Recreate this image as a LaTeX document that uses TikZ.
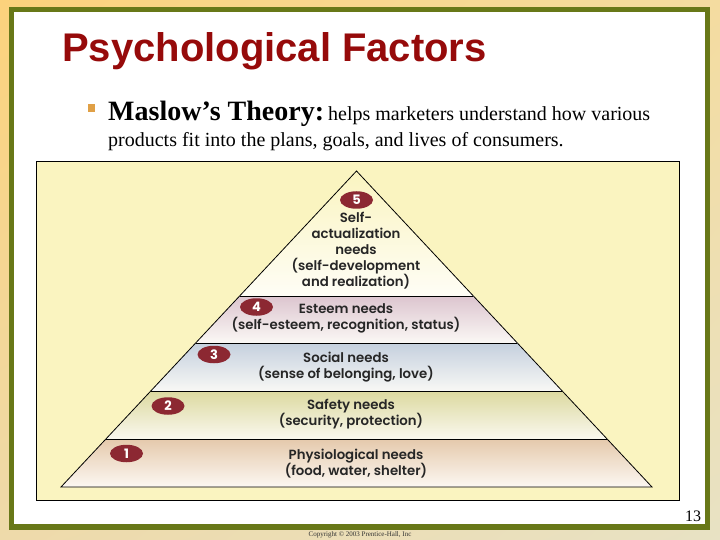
\documentclass[tikz,border=0pt]{standalone}
\usepackage{fontspec}
\setmainfont{Liberation Serif}
\newfontfamily\titlefont{Liberation Sans}
\newfontfamily\pyrfont{Poppins}[BoldFont={Poppins SemiBold}]
\newfontfamily\badgefont{Poppins}
\usetikzlibrary{shapes.geometric,shadings}
\definecolor{olive}{RGB}{104,120,24}
\definecolor{goldA}{RGB}{252,210,124}
\definecolor{goldB}{RGB}{232,226,196}
\definecolor{goldC}{RGB}{244,220,160}
\definecolor{goldD}{RGB}{238,218,170}
\definecolor{titlered}{RGB}{150,10,10}
\definecolor{boxfill}{RGB}{250,244,192}
\definecolor{badge}{RGB}{140,40,50}
\definecolor{bullet}{RGB}{224,160,70}
\tikzset{
  badgenode/.style={ellipse, fill=badge, text=white, minimum width=33pt, minimum height=17.5pt, inner sep=0pt, font=\badgefont\bfseries\fontsize{13}{13}\selectfont},
  levelnode/.style={align=center, text=black!85, inner sep=0pt, font=\pyrfont\bfseries\fontsize{13.3}{16}\selectfont}
}

\begin{document}
\begin{tikzpicture}[x=1pt,y=-1pt]
\useasboundingbox (0,0) rectangle (720,540);
\shade[upper left=goldA, upper right=goldC, lower left=goldD, lower right=goldB] (0,0) rectangle (720,540);
\fill[olive] (9,7) rectangle (710,530);
\fill[white] (14,12) rectangle (705,524);
\node[font=\titlefont\bfseries\fontsize{40}{40}\selectfont,text=titlered,anchor=base west,inner sep=0pt] (title) at (62,62) {Psychological Factors};
\fill[bullet] (88,104) rectangle (95,112);
\node[anchor=base west,inner sep=0pt] (maslow) at (108,121) {{\fontsize{28}{28}\selectfont\bfseries Maslow’s Theory:}\hspace{4pt}{\fontsize{20}{20}\selectfont helps marketers understand how various}};
\node[anchor=base west,inner sep=0pt,font=\fontsize{20}{20}\selectfont] (maslowb) at (108,147) {products fit into the plans, goals, and lives of consumers.};
\draw[black,fill=boxfill,line width=1pt] (36,162) rectangle (679,500);
% pyramid bands
\begin{scope}
\clip (356.5,171) -- (652,487) -- (61,487) -- cycle;
\foreach \ya/\yb/\ca/\cb in {171/296/boxfill/white!85!boxfill, 296/343/{rgb,255:red,220;green,197;blue,207}/{rgb,255:red,251;green,248;blue,245}, 343/391/{rgb,255:red,197;green,208;blue,222}/{rgb,255:red,248;green,248;blue,245}, 391/439/{rgb,255:red,220;green,217;blue,160}/{rgb,255:red,250;green,248;blue,238}, 439/487/{rgb,255:red,229;green,201;blue,172}/{rgb,255:red,252;green,248;blue,242}} {
  \shade[top color=\ca, bottom color=\cb] (50,\ya) rectangle (670,\yb);
}
\end{scope}
\draw[black,line width=0.8pt] (356.5,171) -- (652,487) -- (61,487) -- cycle;
\foreach \y/\xa/\xb in {296/239.6/473.4, 343/195.7/517.3, 391/150.8/562.2, 439/105.9/607.1} { \draw[black,line width=0.8pt] (\xa,\y) -- (\xb,\y); }
% number badges
\foreach \n/\x/\y in {5/356.5/200, 4/256.5/307, 3/214/354.5, 2/168/406, 1/126.5/453.5} { \node[badgenode] (b\n) at (\x,\y) {\n}; }
\node[levelnode] (lvl5) at (356,251) {Self-\\actualization\\needs\\(self-development\\and realization)};
\node[levelnode] (lvl4) at (346,318.5) {Esteem needs\\(self-esteem, recognition, status)};
\node[levelnode] (lvl3) at (346,367) {Social needs\\(sense of belonging, love)};
\node[levelnode] (lvl2) at (351,414) {Safety needs\\(security, protection)};
\node[levelnode] (lvl1) at (356,463.5) {Physiological needs\\(food, water, shelter)};
\node[font=\fontsize{16}{16}\selectfont,inner sep=0pt] (page) at (693,516) {13};
\node[font=\fontsize{7}{7}\selectfont,inner sep=0pt,text=black!80] (copy) at (360,535) {Copyright © 2003 Prentice-Hall, Inc};
\end{tikzpicture}
\end{document}
